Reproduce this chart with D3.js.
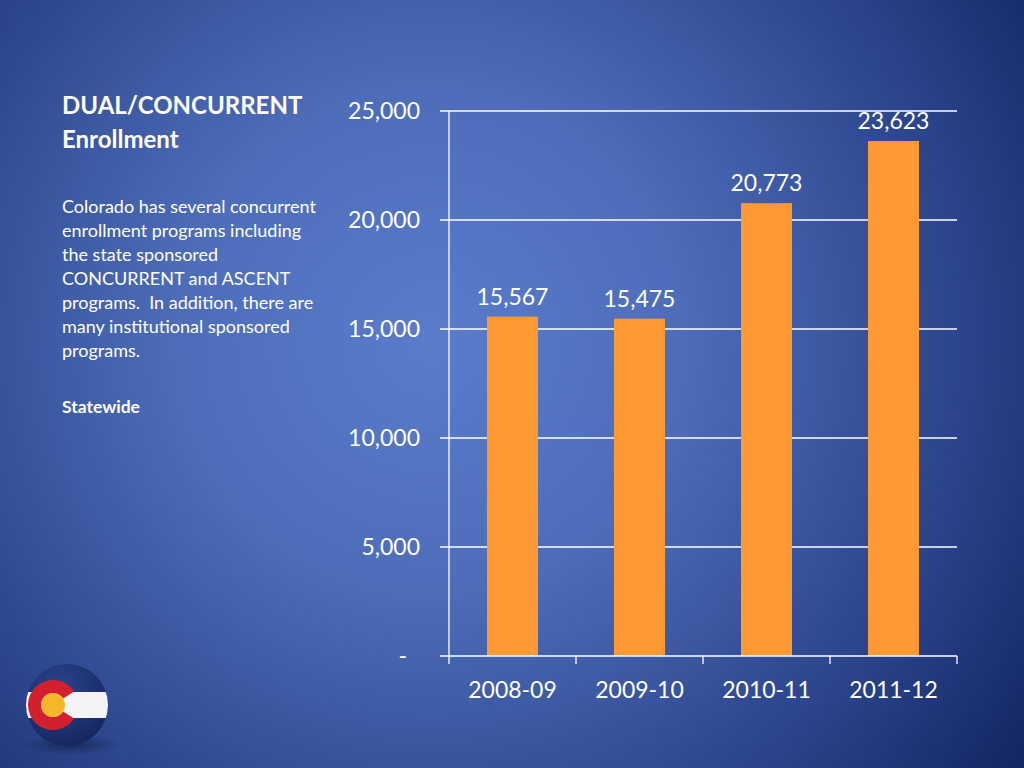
<!DOCTYPE html>
<html><head><meta charset="utf-8">
<script src="https://cdn.jsdelivr.net/npm/d3@7/dist/d3.min.js"></script>
<style>html,body{margin:0;padding:0;overflow:hidden;background:#1f3576}</style>
</head><body>
<svg id="c" width="1024" height="768"></svg>
<script>
const categories = ["2008-09", "2009-10", "2010-11", "2011-12"];
const enrollment = [15567, 15475, 20773, 23623];
const yTicks = [0, 5000, 10000, 15000, 20000, 25000];
const yTickLabels = ["-", "5,000", "10,000", "15,000", "20,000", "25,000"];
const titleLines = ["DUAL/CONCURRENT", "Enrollment"];
const bodyLines = ["Colorado has several concurrent", "enrollment programs including", "the state sponsored", "CONCURRENT and ASCENT", "programs.  In addition, there are", "many institutional sponsored", "programs."];
const subLabel = "Statewide";

const svg = d3.select("#c");
const defs = svg.append("defs");
const rg = defs.append("radialGradient").attr("id","bg")
  .attr("gradientUnits","userSpaceOnUse").attr("cx",430).attr("cy",340).attr("r",720);
rg.append("stop").attr("offset","0").attr("stop-color","#5a7ccb");
rg.append("stop").attr("offset","0.35").attr("stop-color","#4d6db9");
rg.append("stop").attr("offset","0.75").attr("stop-color","#2a438a");
rg.append("stop").attr("offset","1").attr("stop-color","#142766");
svg.append("rect").attr("width",1024).attr("height",768).attr("fill","url(#bg)");

const font = "Lato, 'Open Sans', sans-serif";
const m = {left:449, right:957, top:111, bottom:656};
const xb = d3.scaleBand().domain(categories).range([m.left, m.right]);
const y = d3.scaleLinear().domain([0, 25000]).range([m.bottom, m.top]);

// gridlines
svg.append("g").selectAll("line").data(yTicks.slice(1)).join("line")
  .attr("x1", 440).attr("x2", m.right).attr("y1", d=>y(d)).attr("y2", d=>y(d))
  .attr("stroke","#ffffff").attr("stroke-width",1.3);

// y axis line
svg.append("line").attr("x1",m.left).attr("x2",m.left).attr("y1",y(25000)).attr("y2",y(0))
  .attr("stroke","#ffffff").attr("stroke-width",1.3);

// y tick labels
svg.append("g").selectAll("text").data(yTicks).join("text")
  .attr("x", d=> d===0 ? 407 : 420).attr("y", d=>y(d)+8).attr("text-anchor","end")
  .attr("font-family",font).attr("font-size",23).attr("fill","#fff")
  .text((d,i)=>yTickLabels[i]);

// bars
svg.append("g").selectAll("rect").data(enrollment).join("rect")
  .attr("x",(d,i)=>xb(categories[i]) + (xb.bandwidth()-51)/2).attr("width",51)
  .attr("y",d=>y(d)).attr("height",d=>y(0)-y(d)).attr("fill","#ff9933");

// value labels
svg.append("g").selectAll("text").data(enrollment).join("text")
  .attr("x",(d,i)=>xb(categories[i]) + xb.bandwidth()/2).attr("y",d=>y(d)-12)
  .attr("text-anchor","middle").attr("font-family",font).attr("font-size",23).attr("fill","#fff")
  .text(d=>d3.format(",")(d));

// x axis
const xa = svg.append("g").attr("transform",`translate(0,${m.bottom})`);
xa.append("line").attr("x1",440).attr("x2",m.right).attr("stroke","#fff").attr("stroke-width",1.3);
const edges = categories.map(c=>xb(c)).concat([m.right]);
xa.selectAll("line.t").data(edges).join("line").attr("class","t")
  .attr("x1",d=>d).attr("x2",d=>d).attr("y1",0).attr("y2",8).attr("stroke","#fff").attr("stroke-width",1.3);
xa.selectAll("text").data(categories).join("text")
  .attr("x",d=>xb(d)+xb.bandwidth()/2).attr("y",42).attr("text-anchor","middle")
  .attr("font-family",font).attr("font-size",23).attr("fill","#fff").text(d=>d);

// left text
svg.append("g").selectAll("text").data(titleLines).join("text")
  .attr("x",62).attr("y",(d,i)=>114+i*34).attr("font-family",font).attr("font-weight","bold")
  .attr("font-size",24).attr("fill","#fff").text(d=>d);
svg.append("g").selectAll("text").data(bodyLines).join("text")
  .attr("x",62).attr("y",(d,i)=>213+i*24).attr("font-family",font)
  .attr("font-size",18).attr("fill","#fff").style("white-space","pre").text(d=>d);
svg.append("text").attr("x",62).attr("y",413).attr("font-family",font).attr("font-weight","bold")
  .attr("font-size",17.5).attr("fill","#fff").text(subLabel);

// Colorado logo
const lg = svg.append("g");
const sh = defs.append("radialGradient").attr("id","sh");
sh.append("stop").attr("offset","0").attr("stop-color","#000").attr("stop-opacity",0.35);
sh.append("stop").attr("offset","1").attr("stop-color","#000").attr("stop-opacity",0);
lg.append("ellipse").attr("cx",72).attr("cy",745).attr("rx",50).attr("ry",10).attr("fill","url(#sh)");
const cg = defs.append("radialGradient").attr("id","ball").attr("cx","0.4").attr("cy","0.3").attr("r","0.8");
cg.append("stop").attr("offset","0").attr("stop-color","#2c4590");
cg.append("stop").attr("offset","1").attr("stop-color","#14235a");
defs.append("clipPath").attr("id","ballclip").append("circle").attr("cx",67).attr("cy",705).attr("r",41);
lg.append("circle").attr("cx",67).attr("cy",705).attr("r",41).attr("fill","url(#ball)");
const inner = lg.append("g").attr("clip-path","url(#ballclip)");
inner.append("rect").attr("x",20).attr("y",692).attr("width",90).attr("height",26).attr("fill","#f4f4f6");
const arc = d3.arc().innerRadius(12).outerRadius(25).startAngle(Math.PI*0.68).endAngle(Math.PI*2.32);
inner.append("path").attr("transform","translate(53,705)").attr("d",arc()).attr("fill","#d2202f");
inner.append("circle").attr("cx",53).attr("cy",705).attr("r",12).attr("fill","#f5b72a");
</script>
</body></html>
